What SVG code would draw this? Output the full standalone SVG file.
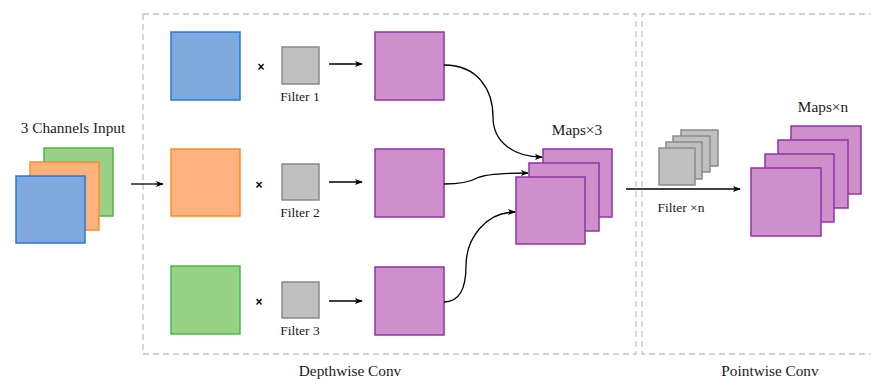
<svg xmlns="http://www.w3.org/2000/svg" width="871" height="380" viewBox="0 0 871 380">
  <defs>
    <marker id="arrow" viewBox="0 0 10 10" refX="9" refY="5" markerWidth="8" markerHeight="8" orient="auto" markerUnits="userSpaceOnUse">
      <path d="M0,1 L10,5 L0,9 L2.5,5 Z" fill="#000"/>
    </marker>
    <style>
      .lbl, .sm { font-family: 'Liberation Serif', 'Times New Roman', serif; fill: #1a1a1a; }
      .lbl { font-size: 15.3px; }
      .sm { font-size: 13.5px; }
      .times { font-family: 'Liberation Sans', 'DejaVu Sans', sans-serif; font-size: 12px; font-weight: bold; fill: #000; }
      .frame { fill: none; stroke: #c4c4c4; stroke-width: 1.3; stroke-dasharray: 6 4; }
      .blue { fill: #7ea9df; stroke: #2a78d2; stroke-width: 1.5; }
      .orange { fill: #ffb27e; stroke: #ff8a2e; stroke-width: 1.5; }
      .green { fill: #98d286; stroke: #4cb845; stroke-width: 1.5; }
      .purple { fill: #cf8fca; stroke: #8e34a8; stroke-width: 1.5; }
      .gray { fill: #c0c0c0; stroke: #8a8a8a; stroke-width: 1.5; }
      .conn { fill: none; stroke: #000; stroke-width: 1.3; marker-end: url(#arrow); }
    </style>
  </defs>

  <rect width="871" height="380" fill="#fff"/>

  <!-- section frames -->
  <g id="depthwise-frame">
    <rect class="frame" x="143" y="14" width="493" height="340"/>
    <text class="lbl" x="350" y="376" text-anchor="middle">Depthwise Conv</text>
  </g>
  <g id="pointwise-frame">
    <path class="frame" d="M875,14 H642 V354 H875"/>
    <text class="lbl" x="770" y="376" text-anchor="middle">Pointwise Conv</text>
  </g>

  <!-- input channels -->
  <g id="input">
    <text class="lbl" x="73" y="133" text-anchor="middle">3 Channels Input</text>
    <rect class="green" x="44" y="148" width="69" height="68"/>
    <rect class="orange" x="30" y="162" width="69" height="68"/>
    <rect class="blue" x="16" y="176" width="69" height="67"/>
  </g>

  <!-- depthwise rows -->
  <g id="row1">
    <rect class="blue" x="171" y="32" width="69" height="68"/>
    <text class="times" x="261" y="71" text-anchor="middle">×</text>
    <rect class="gray" x="282" y="47" width="37" height="37"/>
    <text class="sm" x="300" y="101" text-anchor="middle">Filter 1</text>
    <rect class="purple" x="375" y="32" width="69" height="68"/>
  </g>
  <g id="row2">
    <rect class="orange" x="171" y="149" width="69" height="67"/>
    <text class="times" x="259" y="189" text-anchor="middle">×</text>
    <rect class="gray" x="282" y="164" width="37" height="36"/>
    <text class="sm" x="300" y="217" text-anchor="middle">Filter 2</text>
    <rect class="purple" x="375" y="149" width="69" height="68"/>
  </g>
  <g id="row3">
    <rect class="green" x="171" y="266" width="69" height="68"/>
    <text class="times" x="259" y="306" text-anchor="middle">×</text>
    <rect class="gray" x="282" y="282" width="37" height="36"/>
    <text class="sm" x="300" y="335" text-anchor="middle">Filter 3</text>
    <rect class="purple" x="375" y="267" width="69" height="68"/>
  </g>

  <!-- depthwise output maps -->
  <g id="maps3">
    <text class="lbl" x="577" y="135" text-anchor="middle">Maps×3</text>
    <rect class="purple" x="543" y="149" width="69" height="68"/>
    <rect class="purple" x="529" y="163" width="70" height="68"/>
    <rect class="purple" x="516" y="177" width="69" height="67"/>
  </g>

  <!-- pointwise filters -->
  <g id="filters-n">
    <rect class="gray" x="681" y="130" width="37" height="36"/>
    <rect class="gray" x="673" y="136" width="37" height="36"/>
    <rect class="gray" x="666" y="142" width="36" height="37"/>
    <rect class="gray" x="659" y="148" width="36" height="37"/>
    <text class="sm" x="681" y="212" text-anchor="middle">Filter ×n</text>
  </g>

  <!-- pointwise output maps -->
  <g id="maps-n">
    <text class="lbl" x="823" y="112" text-anchor="middle">Maps×n</text>
    <rect class="purple" x="791" y="126" width="70" height="68"/>
    <rect class="purple" x="778" y="140" width="70" height="68"/>
    <rect class="purple" x="765" y="154" width="69" height="68"/>
    <rect class="purple" x="751" y="168" width="70" height="68"/>
  </g>

  <!-- connectors -->
  <g id="connectors">
    <line class="conn" x1="131" y1="184" x2="163" y2="184"/>
    <line class="conn" x1="329" y1="64" x2="362" y2="64"/>
    <line class="conn" x1="329" y1="182" x2="362" y2="182"/>
    <line class="conn" x1="329" y1="301" x2="362" y2="301"/>
    <path class="conn" d="M444,65 C478,65 493,90 493,117 C493,143 515,157 542,157"/>
    <path class="conn" d="M444,184 C462,184 470,182 477,178 C485,174 505,173 528,173"/>
    <path class="conn" d="M444,302 C460,302 466,288 466,266 C466,238 486,212 515,212"/>
    <line class="conn" x1="626" y1="189" x2="740" y2="189"/>
  </g>
</svg>
